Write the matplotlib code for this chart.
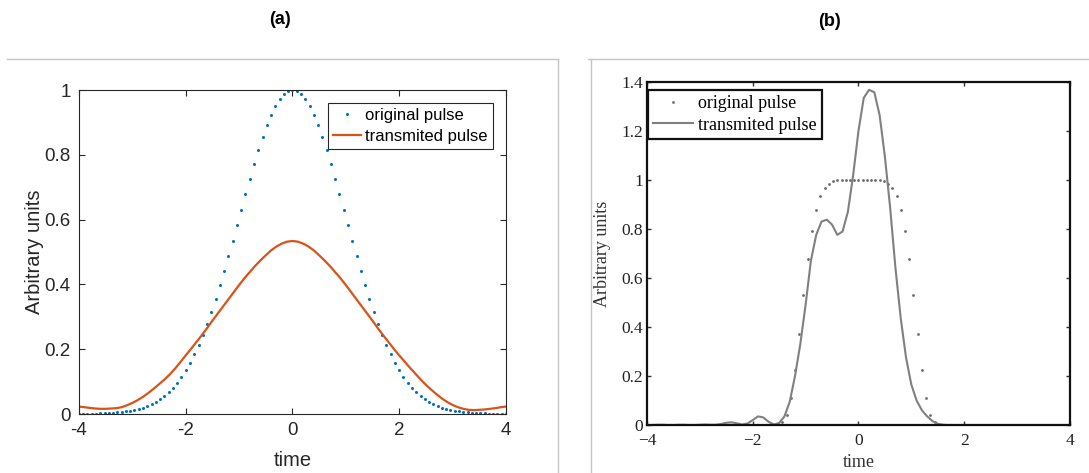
import numpy as np
import matplotlib.pyplot as plt
from matplotlib.lines import Line2D

# (a) original pulse, sampled every 0.08 from -4 to 4
orig_a = [0.000, 0.000, 0.001, 0.001, 0.001, 0.002, 0.002, 0.003, 0.004, 0.005,
          0.006, 0.008, 0.010, 0.013, 0.016, 0.020, 0.025, 0.031, 0.038, 0.046,
          0.056, 0.068, 0.081, 0.097, 0.115, 0.135, 0.158, 0.184, 0.213, 0.244,
          0.278, 0.315, 0.355, 0.397, 0.441, 0.487, 0.534, 0.582, 0.631, 0.679,
          0.726, 0.772, 0.815, 0.855, 0.891, 0.923, 0.950, 0.972, 0.987, 0.997,
          1.000,
          0.997, 0.987, 0.972, 0.950, 0.923, 0.891, 0.855, 0.815, 0.772, 0.726,
          0.679, 0.631, 0.582, 0.534, 0.487, 0.441, 0.397, 0.355, 0.315, 0.278,
          0.244, 0.213, 0.184, 0.158, 0.135, 0.115, 0.097, 0.081, 0.068, 0.056,
          0.046, 0.038, 0.031, 0.025, 0.020, 0.016, 0.013, 0.010, 0.008, 0.006,
          0.005, 0.004, 0.003, 0.002, 0.002, 0.001, 0.001, 0.001, 0.000, 0.000]

# (a) transmitted pulse, every 0.1 from -4 to 4
trans_a = [0.023, 0.021, 0.019, 0.017, 0.016, 0.016, 0.017, 0.018, 0.021, 0.027,
           0.034, 0.043, 0.053, 0.065, 0.078, 0.092, 0.106, 0.122, 0.140, 0.160,
           0.181, 0.201, 0.222, 0.243, 0.265, 0.288, 0.310, 0.332, 0.354, 0.376,
           0.398, 0.419, 0.438, 0.457, 0.474, 0.490, 0.505, 0.517, 0.526, 0.532,
           0.534,
           0.532, 0.526, 0.517, 0.505, 0.490, 0.474, 0.457, 0.438, 0.419, 0.398,
           0.376, 0.354, 0.332, 0.310, 0.288, 0.265, 0.243, 0.222, 0.201, 0.181,
           0.162, 0.143, 0.125, 0.107, 0.090, 0.075, 0.061, 0.048, 0.037, 0.028,
           0.021, 0.016, 0.013, 0.012, 0.013, 0.014, 0.016, 0.018, 0.021, 0.023]

# (b) original pulse, every 0.08 from -4 to 4
orig_b = [0.0, 0.0, 0.0, 0.0, 0.0, 0.0, 0.0, 0.0, 0.0, 0.0,
          0.0, 0.0, 0.0, 0.0, 0.0, 0.0, 0.0, 0.0, 0.0, 0.0,
          0.0, 0.0, 0.0, 0.0, 0.0, 0.0, 0.0, 0.0, 0.0, 0.0,
          0.0, 0.002, 0.012, 0.042, 0.111, 0.225, 0.373, 0.531, 0.676, 0.793,
          0.877, 0.933, 0.966, 0.985, 0.994, 0.998, 0.999, 1.0, 1.0, 1.0,
          1.0,
          1.0, 1.0, 1.0, 0.999, 0.998, 0.994, 0.985, 0.966, 0.933, 0.877,
          0.793, 0.676, 0.531, 0.373, 0.225, 0.111, 0.042, 0.012, 0.002, 0.0,
          0.0, 0.0, 0.0, 0.0, 0.0, 0.0, 0.0, 0.0, 0.0, 0.0,
          0.0, 0.0, 0.0, 0.0, 0.0, 0.0, 0.0, 0.0, 0.0, 0.0,
          0.0, 0.0, 0.0, 0.0, 0.0, 0.0, 0.0, 0.0, 0.0, 0.0]

# (b) transmitted pulse, every 0.1 from -4 to 4
trans_b = [0.000, 0.000, 0.001, 0.001, 0.000, 0.000, 0.001, 0.001, 0.000, 0.000,
           0.001, 0.002, 0.001, 0.001, 0.004, 0.009, 0.011, 0.007, 0.002, 0.006,
           0.020, 0.035, 0.031, 0.013, 0.002, 0.008, 0.035, 0.095, 0.200, 0.330,
           0.490, 0.670, 0.775, 0.830, 0.838, 0.818, 0.776, 0.790, 0.870, 1.020,
           1.200, 1.335, 1.368, 1.358, 1.265, 1.095, 0.885, 0.640, 0.435, 0.275,
           0.165, 0.100, 0.060, 0.035, 0.016, 0.005, 0.001, 0.000, 0.000, 0.000,
           0.000, 0.000, 0.000, 0.000, 0.000, 0.000, 0.000, 0.000, 0.000, 0.000,
           0.000, 0.000, 0.000, 0.000, 0.000, 0.000, 0.000, 0.000, 0.000, 0.000,
           0.000]

xticks = [-4, -2, 0, 2, 4]
xlabels_a = ['-4', '-2', '0', '2', '4']
xlabels_b = ['\u22124', '\u22122', '0', '2', '4']
yticks_a = [0, 0.2, 0.4, 0.6, 0.8, 1]
ylabels_a = ['0', '0.2', '0.4', '0.6', '0.8', '1']
yticks_b = [0, 0.2, 0.4, 0.6, 0.8, 1, 1.2, 1.4]
ylabels_b = ['0', '0.2', '0.4', '0.6', '0.8', '1', '1.2', '1.4']

fig = plt.figure(figsize=(10.89, 4.73), dpi=100)

# ---- panel (a), MATLAB look
sans = 'Liberation Sans'
ax1 = fig.add_axes([0.0725, 0.1247, 0.3921, 0.685])
ax1.plot(np.linspace(-4, 4, len(orig_a)), orig_a, 'o', ms=2.2, mew=0,
         color='#0072BD', label='original pulse')
ax1.plot(np.linspace(-4, 4, len(trans_a)), trans_a, '-', lw=1.6,
         color='#D95319', label='transmited pulse')
ax1.set_xlim(-4, 4)
ax1.set_ylim(0, 1)
ax1.set_xticks(xticks)
ax1.set_xticklabels(xlabels_a, fontfamily=sans, fontsize=13.5, color='#262626')
ax1.set_yticks(yticks_a)
ax1.set_yticklabels(ylabels_a, fontfamily=sans, fontsize=13.5, color='#262626')
ax1.tick_params(direction='in', top=True, right=True, length=4, width=0.8,
                color='#262626', pad=6)
for s in ax1.spines.values():
    s.set_color('#262626')
    s.set_linewidth(0.8)
ax1.set_xlabel('time', fontfamily=sans, fontsize=14.5, color='#262626')
ax1.set_ylabel('Arbitrary units', fontfamily=sans, fontsize=14.5, color='#262626')
ax1.xaxis.set_label_coords(0.5, -0.115)
ax1.yaxis.set_label_coords(-0.083, 0.5)
leg1 = ax1.legend(loc='upper right', bbox_to_anchor=(0.9696, 0.96), borderaxespad=0,
                  prop={'family': sans, 'size': 12}, fancybox=False, framealpha=1,
                  edgecolor='#262626', handlelength=1.7, handletextpad=0.25,
                  borderpad=0.3, labelspacing=0.35)
leg1.get_frame().set_linewidth(0.8)

# ---- panel (b), scanned-paper look
serif = 'Liberation Serif'
ax2 = fig.add_axes([0.5941, 0.1015, 0.3884, 0.7252])
ax2.plot(np.linspace(-4, 4, len(orig_b)), orig_b, 'o', ms=2.0, mew=0,
         color='#6a6a6a', label='original pulse')
ax2.plot(np.linspace(-4, 4, len(trans_b)), trans_b, '-', lw=1.5,
         color='#808080', label='transmited pulse')
ax2.set_xlim(-4, 4)
ax2.set_ylim(0, 1.4)
ax2.set_xticks(xticks)
ax2.set_xticklabels(xlabels_b, fontfamily=serif, fontsize=12.5, color='#222222')
ax2.set_yticks(yticks_b)
ax2.set_yticklabels(ylabels_b, fontfamily=serif, fontsize=12.5, color='#222222')
ax2.tick_params(direction='in', top=True, right=True, length=3, width=1,
                color='#333333')
ax2.tick_params(axis='x', pad=6)
ax2.tick_params(axis='y', pad=3)
for s in ax2.spines.values():
    s.set_color('#111111')
    s.set_linewidth(1.6)
ax2.set_xlabel('time', fontfamily=serif, fontsize=13, color='#333333')
ax2.set_ylabel('Arbitrary units', fontfamily=serif, fontsize=13, color='#333333')
ax2.xaxis.set_label_coords(0.5, -0.085)
ax2.yaxis.set_label_coords(-0.085, 0.5)
leg2 = ax2.legend(loc='upper left', bbox_to_anchor=(0.002, 0.977), borderaxespad=0,
                  prop={'family': serif, 'size': 13}, fancybox=False, framealpha=1,
                  edgecolor='#111111', handlelength=2.2, handletextpad=0.3,
                  borderpad=0.3, labelspacing=0.25)
leg2.get_frame().set_linewidth(1.6)

# panel titles
fig.text(0.257, 0.958, '(a)', ha='center', va='center', fontsize=13,
         fontweight='bold', fontfamily=sans)
fig.text(0.762, 0.955, '(b)', ha='center', va='center', fontsize=13,
         fontweight='bold', fontfamily=sans)

# light frame lines around the two panels
line_col = '#c4c4c4'
fig.add_artist(Line2D([0.0064, 0.5124], [0.8753, 0.8753], color=line_col, lw=1,
                      transform=fig.transFigure))
fig.add_artist(Line2D([0.5124, 0.5124], [0.8753, 0.0], color=line_col, lw=1,
                      transform=fig.transFigure))
fig.add_artist(Line2D([0.5400, 1.0], [0.8753, 0.8753], color=line_col, lw=1,
                      transform=fig.transFigure))
fig.add_artist(Line2D([0.5427, 0.5427], [0.8753, 0.0], color=line_col, lw=1,
                      transform=fig.transFigure))

fig.savefig('out.png', dpi=100)
